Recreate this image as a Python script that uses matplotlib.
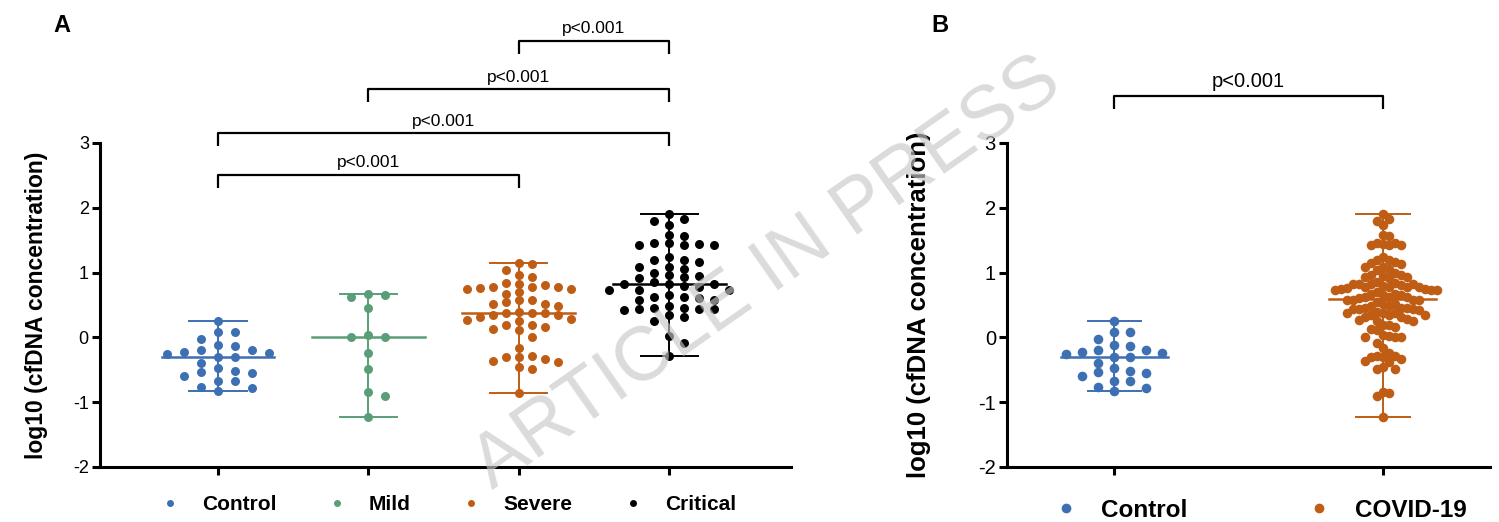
import numpy as np
import matplotlib.pyplot as plt
from matplotlib.lines import Line2D

plt.rcParams['font.family'] = ['Liberation Sans', 'DejaVu Sans']
plt.rcParams['axes.unicode_minus'] = False

# ---- data (log10 cfDNA concentration) ----
control = [0.26, 0.08, 0.08, -0.02, -0.19, -0.22, -0.13, -0.12, -0.19,
           -0.31, -0.24, -0.25, -0.31, -0.40, -0.55, -0.52, -0.48, -0.59,
           -0.54, -0.68, -0.67, -0.83, -0.76, -0.78]
mild = [0.62, 0.66, 0.67, 0.46, 0.005, 0.005, 0.03, -0.24, -0.49,
        -0.84, -0.91, -1.23]
severe = [1.14, 1.15, 1.04, 0.93, 0.96, 0.84, 0.78, 0.75, 0.83, 0.81,
          0.76, 0.77, 0.74, 0.77, 0.70, 0.67, 0.54, 0.58, 0.57, 0.51,
          0.48, 0.51, 0.34, 0.38, 0.37, 0.39, 0.34, 0.37, 0.27, 0.29,
          0.25, 0.31, 0.19, 0.13, 0.16, 0.11, 0.19, 0.005, -0.16, -0.34,
          -0.38, -0.30, -0.37, -0.30, -0.28, -0.45, -0.49, -0.86]
critical = [1.90, 1.83, 1.80, 1.73, 1.56, 1.58, 1.42, 1.45, 1.42, 1.43,
            1.44, 1.45, 1.24, 1.20, 1.19, 1.16, 1.08, 0.99, 1.09, 1.06,
            0.92, 0.93, 0.94, 0.96, 0.77, 0.85, 0.83, 0.83, 0.82, 0.80,
            0.73, 0.73, 0.73, 0.65, 0.62, 0.62, 0.58, 0.57, 0.60, 0.44,
            0.46, 0.44, 0.44, 0.48, 0.46, 0.43, 0.31, 0.34, 0.25, 0.02,
            -0.09, -0.28]
covid = mild + severe + critical   # panel B pools all patients

groups_a = ['Control', 'Mild', 'Severe', 'Critical']
values_a = [control, mild, severe, critical]
colors_a = ['#3D6FB3', '#5A9E78', '#BF5D15', '#000000']

groups_b = ['Control', 'COVID-19']
values_b = [control, covid]
colors_b = ['#3D6FB3', '#BF5D15']

pvals_a = [(3, 4, 'p<0.001', 4.58), (2, 4, 'p<0.001', 3.83),
           (1, 4, 'p<0.001', 3.15), (1, 3, 'p<0.001', 2.51)]
pvals_b = [(1, 2, 'p<0.001', 3.73)]

W, H, DPI = 14.99, 5.22, 100
fig = plt.figure(figsize=(W, H), dpi=DPI)
axA = fig.add_axes([0.0667, 0.1054, 0.461, 0.6207])
axB = fig.add_axes([0.6718, 0.1054, 0.3222, 0.6207])


def swarm(vals, ax, xstep_px, ytol_px):
    # grid beeswarm: offsets (data units) so dots don't overlap
    pos = ax.get_position()
    x0, x1 = ax.get_xlim()
    y0, y1 = ax.get_ylim()
    px_x = pos.width * W * DPI / (x1 - x0)
    px_y = pos.height * H * DPI / (y1 - y0)
    vals = np.asarray(vals, float)
    order = np.argsort(-vals)
    cols = {}
    offs = np.zeros(len(vals))
    for i in order:
        y = vals[i] * px_y
        k = 0
        n = 0
        while True:
            placed = cols.get(k, [])
            if all(abs(y - yy) >= ytol_px for yy in placed):
                break
            n += 1
            k = (n + 1) // 2 * (1 if n % 2 else -1)
        cols.setdefault(k, []).append(y)
        offs[i] = k * xstep_px / px_x
    return offs


def draw_panel(ax, groups, values, colors, xlim, med_w, cap_w, size,
               steps, fs_tick, fs_lab, labpad):
    ax.set_xlim(*xlim)
    ax.set_ylim(-2, 3)
    for i, (vals, c) in enumerate(zip(values, colors)):
        p = i + 1
        offs = swarm(vals, ax, steps[i][0], steps[i][1])
        ax.scatter(p + offs, vals, s=size, color=c, linewidths=0, zorder=3)
        med = np.median(vals)
        lo, hi = min(vals), max(vals)
        ax.plot([p - med_w, p + med_w], [med, med], color=c, lw=1.8, zorder=2)
        ax.plot([p, p], [lo, hi], color=c, lw=1.4, zorder=2)
        ax.plot([p - cap_w, p + cap_w], [lo, lo], color=c, lw=1.4, zorder=2)
        ax.plot([p - cap_w, p + cap_w], [hi, hi], color=c, lw=1.4, zorder=2)
    for s in ['top', 'right']:
        ax.spines[s].set_visible(False)
    for s in ['left', 'bottom']:
        ax.spines[s].set_linewidth(2.2)
    ax.set_xticks(range(1, len(groups) + 1))
    ax.set_xticklabels([])
    ax.set_yticks(range(-2, 4))
    ax.tick_params(width=2.2, length=6, labelsize=fs_tick, pad=2)
    ax.set_ylabel('log10 (cfDNA concentration)', fontsize=fs_lab,
                  fontweight='bold', labelpad=labpad)


def brackets(ax, items, fs):
    for a, b, txt, y in items:
        d = 0.2
        ax.plot([a, a, b, b], [y - d, y, y, y - d], color='black', lw=1.6,
                clip_on=False, solid_capstyle='butt')
        ax.text((a + b) / 2, y + 0.07, txt, ha='center', va='bottom',
                fontsize=fs)


draw_panel(axA, groups_a, values_a, colors_a, (0.215, 4.81), 0.375, 0.19,
           42, [(17, 9), (17, 9), (13, 8), (15, 8)], 13, 16.5, 18)
draw_panel(axB, groups_b, values_b, colors_b, (0.6, 2.4), 0.20, 0.10,
           48, [(16, 9), (6, 9)], 14.5, 18.5, 34)

brackets(axA, pvals_a, 12.5)
brackets(axB, pvals_b, 14.5)

# legends below the axes
hA = [Line2D([], [], ls='none', marker='o', ms=5, color=c, mew=0)
      for c in colors_a]
axA.legend(hA, groups_a, loc='center', bbox_to_anchor=(0.503, -0.117),
           ncol=4, frameon=False, handlelength=1.0, handletextpad=1.04,
           columnspacing=2.4, prop={'weight': 'bold', 'size': 15})
hB = [Line2D([], [], ls='none', marker='o', ms=7, color=c, mew=0)
      for c in colors_b]
axB.legend(hB, groups_b, loc='center', bbox_to_anchor=(0.524, -0.133),
           ncol=2, frameon=False, handlelength=1.0, handletextpad=0.98,
           columnspacing=4.9, prop={'weight': 'bold', 'size': 17.5})

fig.text(62 / 1499, 1 - 25 / 522, 'A', fontsize=17, fontweight='bold',
         ha='center', va='center')
fig.text(940 / 1499, 1 - 25 / 522, 'B', fontsize=17, fontweight='bold',
         ha='center', va='center')

# watermark
fig.text(0.512, 0.475, 'ARTICLE IN PRESS', rotation=35, fontsize=55,
         color='#c8c8c8', alpha=0.65, ha='center', va='center',
         rotation_mode='anchor', zorder=10)

fig.savefig('out.png', dpi=DPI)
